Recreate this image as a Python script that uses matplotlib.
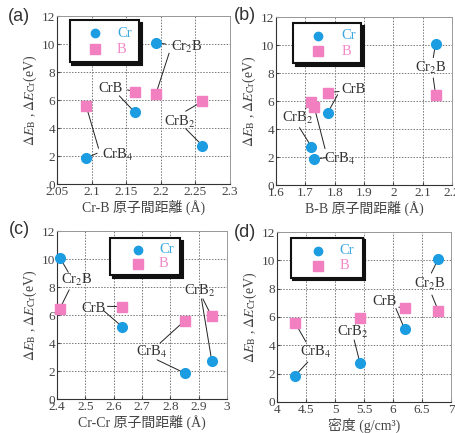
import matplotlib
matplotlib.use("Agg")
import matplotlib.pyplot as plt
from matplotlib.patches import Rectangle
from matplotlib.transforms import offset_copy

plt.rcParams["font.family"] = ["Liberation Serif", "Noto Sans CJK JP"]
plt.rcParams["mathtext.fontset"] = "stix"

# data: Cr2B, CrB, CrB2, CrB4
names = [r"Cr$_2$B", "CrB", r"CrB$_2$", r"CrB$_4$"]
crb_dist = [2.193, 2.162, 2.26, 2.092]
bb_dist = [2.144, 1.776, 1.72, 1.73]
crcr_dist = [2.41, 2.631, 2.946, 2.851]
density = [6.78, 6.2, 5.43, 4.31]
dE_cr = [10.1, 5.15, 2.75, 1.85]
dE_b = [6.45, 6.6, 5.9, 5.6]

blue = "#1c9de2"
pink = "#f27fc0"

# label position, start of line to Cr point, start of line to B point
lab_a = [((2.238, 9.79), (2.207, 10.0), (2.212, 9.35)),
         ((2.127, 6.79), (2.14, 6.3), (2.152, 6.72)),
         ((2.228, 4.43), (2.236, 3.95), (2.236, 5.2)),
         ((2.138, 2.07), (2.108, 2.2), (2.11, 2.55))]
lab_b = [((2.129, 8.36), (2.136, 9.1), (2.136, 7.65)),
         ((1.863, 6.79), (1.81, 6.45), (1.815, 6.68)),
         ((1.675, 4.79), (1.68, 4.1), (1.70, 5.45)),
         ((1.818, 1.86), (1.77, 1.95), (1.767, 2.6))]
lab_c = [((2.471, 8.5), (2.44, 9.05), (2.443, 7.8)),
         ((2.528, 6.5), (2.565, 6.3), (2.578, 6.62)),
         ((2.903, 7.71), (2.91, 7.15), (2.915, 7.15)),
         ((2.735, 3.36), (2.753, 2.8), (2.764, 4.0))]
lab_d = [((6.63, 8.33), (6.66, 9.1), (6.67, 7.55)),
         ((5.86, 7.06), (6.05, 6.6), (6.1, 6.7)),
         ((5.31, 4.94), (5.33, 4.38), (5.35, 5.5)),
         ((4.67, 3.53), (4.53, 2.82), (4.5, 4.24))]

fig = plt.figure(figsize=(4.56, 4.33), dpi=100)


def panel(rect, xs, xlim, xticks, xticklabels, xlabel, labs, box, mx, tx, tag, tagpos):
    ax = fig.add_axes(rect)
    ax.set_xlim(xlim)
    ax.set_ylim(0, 12)
    ax.set_xticks(xticks)
    ax.set_xticklabels(xticklabels)
    ax.set_yticks(range(0, 13, 2))
    ax.grid(True, color="#777777", lw=0.7, linestyle=(0, (1.5, 1.5)))
    ax.set_axisbelow(True)
    ax.tick_params(direction="in", length=2, pad=1.5, labelsize=9.5, colors="#444444")
    for s in ["left", "bottom"]:
        ax.spines[s].set_color("#333333")
    for s in ["top", "right"]:
        ax.spines[s].set_color("#999999")
        ax.spines[s].set_linewidth(0.7)

    for i in range(4):
        (tpos, scr, sb) = labs[i]
        ax.annotate("", xy=(xs[i], dE_cr[i]), xytext=scr,
                    arrowprops=dict(arrowstyle="-", lw=0.7, color="#222222", shrinkA=0, shrinkB=2))
        ax.annotate("", xy=(xs[i], dE_b[i]), xytext=sb,
                    arrowprops=dict(arrowstyle="-", lw=0.7, color="#222222", shrinkA=0, shrinkB=2))
        ax.text(tpos[0], tpos[1], names[i], fontsize=10.5, color="#333333", ha="center", va="center")

    ax.plot(xs, dE_cr, "o", color=blue, ms=7, zorder=3, clip_on=False)
    ax.plot(xs, dE_b, "s", color=pink, ms=7.5, zorder=3, clip_on=False)

    ax.set_xlabel(xlabel, fontsize=10, color="#444444", labelpad=1)
    ax.set_ylabel(r"$\Delta E_{\rm B}$ , $\Delta E_{\rm Cr}$(eV)", fontsize=10, color="#444444", labelpad=2)

    # legend box with black shadow
    x0, x1, y0, y1 = box
    sh = offset_copy(ax.transAxes, fig=fig, x=2.5, y=-2.5, units="dots")
    ax.add_patch(Rectangle((x0, y0), x1 - x0, y1 - y0, transform=sh, facecolor="#111111",
                           edgecolor="#111111", lw=1.5, zorder=5))
    ax.add_patch(Rectangle((x0, y0), x1 - x0, y1 - y0, transform=ax.transAxes, facecolor="white",
                           edgecolor="#111111", lw=1.5, zorder=6))
    yc = y1 - 0.32 * (y1 - y0)
    yb = y0 + 0.3 * (y1 - y0)
    ax.plot([mx], [yc], "o", color=blue, ms=6, transform=ax.transAxes, zorder=7)
    ax.plot([mx], [yb], "s", color=pink, ms=6.5, transform=ax.transAxes, zorder=7)
    ax.text(tx, yc, "Cr", color="#3aa7e0", fontsize=10.5, va="center", transform=ax.transAxes, zorder=7)
    ax.text(tx, yb, "B", color="#f28ac8", fontsize=10.5, va="center", transform=ax.transAxes, zorder=7)

    fig.text(tagpos[0], tagpos[1], tag, fontsize=13, family="Liberation Sans", color="#333333",
             ha="center", va="center")
    return ax


panel([0.125, 0.575, 0.3794, 0.388], crb_dist, (2.05, 2.3),
      [2.05, 2.1, 2.15, 2.2, 2.25, 2.3], ["2.05", "2.1", "2.15", "2.2", "2.25", "2.3"],
      "Cr-B 原子間距離 (Å)", lab_a, (0.075, 0.474, 0.726, 0.976), 0.22, 0.347, "(a)", (0.042, 0.961))

panel([0.6053, 0.5727, 0.386, 0.388], bb_dist, (1.6, 2.2),
      [1.6, 1.7, 1.8, 1.9, 2.0, 2.1, 2.2], ["1.6", "1.7", "1.8", "1.9", "2", "2.1", "2.2"],
      "B-B 原子間距離 (Å)", lab_b, (0.097, 0.483, 0.726, 0.964), 0.239, 0.37, "(b)", (0.537, 0.965))

panel([0.125, 0.0785, 0.3728, 0.388], crcr_dist, (2.4, 3.0),
      [2.4, 2.5, 2.6, 2.7, 2.8, 2.9, 3.0], ["2.4", "2.5", "2.6", "2.7", "2.8", "2.9", "3"],
      "Cr-Cr 原子間距離 (Å)", lab_c, (0.312, 0.724, 0.738, 0.958), 0.476, 0.60, "(c)", (0.042, 0.469))

panel([0.6075, 0.0716, 0.3816, 0.3926], density, (4, 7),
      [4, 4.5, 5, 5.5, 6, 6.5, 7], ["4", "4.5", "5", "5.5", "6", "6.5", "7"],
      "密度 (g/cm³)", lab_d, (0.08, 0.494, 0.73, 0.965), 0.236, 0.36, "(d)", (0.537, 0.464))

fig.savefig("out.png", dpi=100)
